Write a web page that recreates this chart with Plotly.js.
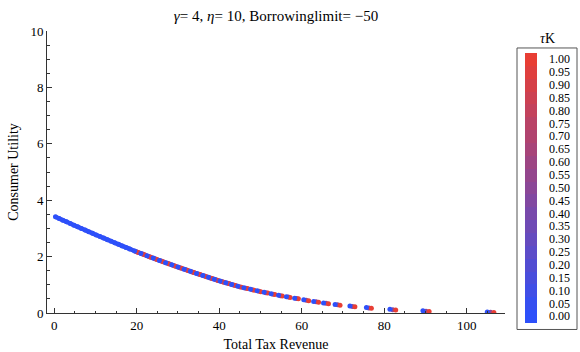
<!DOCTYPE html>
<html><head><meta charset="utf-8">
<script src="https://cdn.plot.ly/plotly-3.0.1.min.js"></script>
<style>html,body{margin:0;padding:0;background:#fff}</style>
</head><body><div id="chart" style="width:580px;height:352px"></div>
<script>
// Low-revenue part of the curve (tauK = 0 points)
const leftX = [0.3,1.2,2.1,3.0,3.9,4.8,5.7,6.6,7.5,8.4,9.3,10.2,11.1,12.0,12.9,13.8,14.7,15.6,16.5,17.4,18.3];
const leftY = [3.410,3.351,3.291,3.232,3.173,3.113,3.055,2.998,2.940,2.882,2.825,2.768,2.712,2.656,2.600,2.544,2.489,2.434,2.380,2.326,2.272];
// Clusters: tauK = 0 (blue), 0.5 (purple), 1 (red)
const blueX = [19.5,21,22.5,24,25.5,27,28.5,30,31.5,33,34.5,36,37.4,38.8,40.2,41.6,43.0,44.5,46.0,47.6,49.2,50.9,52.6,54.4,56.3,58.3,60.5,62.9,65.3,68.1,71.7,75.7,81.4,89.4,105.0];
const blueY = [2.200,2.114,2.030,1.946,1.864,1.786,1.708,1.630,1.555,1.480,1.405,1.332,1.265,1.198,1.132,1.073,1.014,0.951,0.896,0.842,0.787,0.733,0.682,0.628,0.576,0.524,0.468,0.410,0.355,0.304,0.246,0.192,0.130,0.078,0.034];
const midX = [19.95,21.45,22.95,24.45,25.95,27.45,28.95,30.45,31.95,33.45,34.95,36.45,37.85,39.25,40.65,42.05,43.45,44.95,46.45,48.05,49.65,51.35,53.05,54.85,56.75,58.75,61.1,63.5,65.9,68.7,72.3,76.3,82.1,90.15,105.8];
const midY = [2.173,2.089,2.005,1.921,1.841,1.763,1.685,1.608,1.533,1.458,1.383,1.310,1.243,1.176,1.113,1.054,0.995,0.932,0.881,0.826,0.772,0.720,0.669,0.615,0.565,0.513,0.454,0.396,0.344,0.293,0.234,0.179,0.117,0.066,0.025];
const redX = [20.4,21.9,23.4,24.9,26.4,27.9,29.4,30.9,32.4,33.9,35.4,36.9,38.3,39.7,41.1,42.5,43.9,45.4,46.9,48.5,50.1,51.8,53.5,55.3,57.2,59.2,61.7,64.1,66.5,69.3,72.9,76.9,82.8,90.9,106.6];
const redY = [2.148,2.064,1.980,1.896,1.817,1.739,1.661,1.585,1.510,1.435,1.361,1.289,1.222,1.154,1.094,1.035,0.976,0.916,0.865,0.811,0.757,0.706,0.655,0.602,0.553,0.501,0.438,0.380,0.328,0.278,0.220,0.166,0.104,0.056,0.018];
const tauKLevels = [0, 0.5, 1];
const cbTicks = [0,0.05,0.10,0.15,0.20,0.25,0.30,0.35,0.40,0.45,0.50,0.55,0.60,0.65,0.70,0.75,0.80,0.85,0.90,0.95,1.00];

// assemble points (per cluster: purple, red, then blue on top)
const px = [], py = [], pc = [];
leftX.forEach((x,i)=>{px.push(x);py.push(leftY[i]);pc.push(tauKLevels[0]);});
blueX.forEach((x,i)=>{
  px.push(midX[i]); py.push(midY[i]); pc.push(tauKLevels[1]);
  px.push(redX[i]); py.push(redY[i]); pc.push(tauKLevels[2]);
  px.push(x); py.push(blueY[i]); pc.push(tauKLevels[0]);
});
// dense part drawn underneath as a band through the tauK = 0 points
const nDense = blueX.filter(x=>x<45).length;
const bandX = leftX.concat(blueX.slice(0,nDense));
const bandY = leftY.concat(blueY.slice(0,nDense));

// stepped blue->red colour scale (21 bands)
const c0=[45,80,250], c1=[232,62,52];
const nb = cbTicks.length;
const cs = [];
for(let i=0;i<nb;i++){
  const t=i/(nb-1);
  const c='rgb('+c0.map((v,k)=>Math.round(v+(c1[k]-v)*t)).join(',')+')';
  cs.push([i/nb,c]); cs.push([(i+1)/nb,c]);
}

const serif = 'Liberation Serif, Times New Roman, serif';
const PL=47, PR=505, PT=31, PB=313.5, PW=PR-PL, PH=PB-PT;
const band = {type:'scatter', mode:'lines', x:bandX, y:bandY, line:{color:'rgb(55,75,235)', width:4.5, shape:'spline'}, hoverinfo:'skip'};
const trace = {
  type:'scatter', mode:'markers', x:px, y:py,
  marker:{size:5, color:pc, colorscale:cs, cmin:-0.025, cmax:1.025, line:{width:0},
    showscale:true,
    colorbar:{x:(525-PL)/PW, xanchor:'left', y:(PB-188)/PH, yanchor:'middle',
      len:270, lenmode:'pixels', thickness:12, thicknessmode:'pixels', outlinewidth:0, xpad:0, ypad:0,
      tickmode:'array', tickvals:cbTicks, ticktext:cbTicks.map(v=>'\u00a0\u00a0\u00a0'+v.toFixed(2)),
      ticks:'', tickfont:{family:serif, size:12, color:'#000'}}
  },
  hoverinfo:'x+y'
};

const axisCommon = {
  showline:true, linecolor:'#333', linewidth:1, ticks:'inside', ticklen:5, tickwidth:1, tickcolor:'#333',
  showgrid:false, zeroline:false, tickfont:{family:serif, size:13, color:'#000'}
};
const layout = {
  width:580, height:352, margin:{l:PL, r:580-PR, t:PT, b:352-PB},
  paper_bgcolor:'#fff', plot_bgcolor:'#fff', showlegend:false,
  title:{text:'<i>γ</i>= 4, <i>η</i>= 10, Borrowinglimit= −50', x:0.5, xref:'paper', y:1-16/352, yref:'container', yanchor:'middle',
    font:{family:serif, size:15, color:'#000'}},
  xaxis:Object.assign({}, axisCommon, {range:[-1.75,109.3], tick0:0, dtick:20,
    minor:{dtick:5, tick0:0, ticks:'inside', ticklen:2.5, tickcolor:'#333'},
    title:{text:'Total Tax Revenue', font:{family:serif, size:14, color:'#000'}, standoff:8}}),
  yaxis:Object.assign({}, axisCommon, {range:[0,10], tick0:0, dtick:2,
    minor:{dtick:0.5, tick0:0, ticks:'inside', ticklen:2.5, tickcolor:'#333'},
    title:{text:'Consumer Utility', font:{family:serif, size:14, color:'#000'}, standoff:8}}),
  shapes:[{type:'rect', xref:'paper', yref:'paper', x0:(517-PL)/PW, x1:(577-PL)/PW, y0:(PB-330)/PH, y1:(PB-48)/PH,
    line:{color:'#555', width:1}, fillcolor:'rgba(0,0,0,0)'}],
  annotations:[{text:'<i>τ</i>K', xref:'paper', yref:'paper', x:(547-PL)/PW, y:(PB-39)/PH, showarrow:false,
    xanchor:'center', yanchor:'middle', font:{family:serif, size:14, color:'#000'}}]
};
Plotly.newPlot('chart',[band, trace],layout,{displayModeBar:false, staticPlot:true});
</script></body></html>
